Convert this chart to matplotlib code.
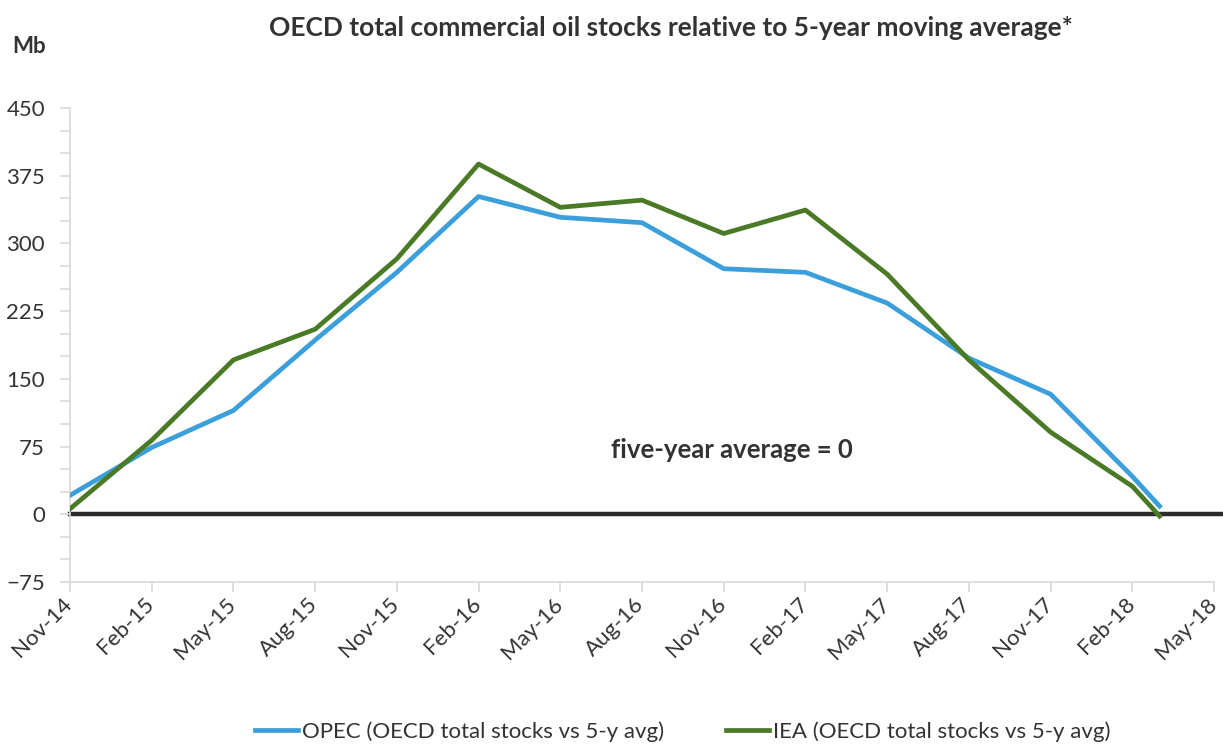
import numpy as np
import matplotlib.pyplot as plt
import matplotlib.transforms as mtransforms
from matplotlib.ticker import MultipleLocator

plt.rcParams['font.family'] = ['Lato', 'DejaVu Sans']

# データ (月次、Nov-14 から)
months = ['Nov-14', 'Feb-15', 'May-15', 'Aug-15', 'Nov-15', 'Feb-16', 'May-16', 'Aug-16',
          'Nov-16', 'Feb-17', 'May-17', 'Aug-17', 'Nov-17', 'Feb-18', 'Mar-18']
month_idx = [0, 3, 6, 9, 12, 15, 18, 21, 24, 27, 30, 33, 36, 39, 40]
opec = [21, 74, 115, 193, 268, 352, 329, 323, 272, 268, 234, 173, 133, 42, 9]
iea = [6, 82, 171, 205, 283, 388, 340, 348, 311, 337, 266, 171, 91, 31, -2]

tick_labels = ['Nov-14', 'Feb-15', 'May-15', 'Aug-15', 'Nov-15', 'Feb-16', 'May-16', 'Aug-16',
               'Nov-16', 'Feb-17', 'May-17', 'Aug-17', 'Nov-17', 'Feb-18', 'May-18']
tick_pos = np.arange(0, 43, 3)

fig = plt.figure(figsize=(12.23, 7.44), dpi=100)
ax = fig.add_axes([0.0572, 0.2177, 0.9355, 0.6371])

ax.axhline(0, color='#2b2b2b', lw=3.2, zorder=1, clip_on=False, xmax=1.007)
ax.plot(month_idx, opec, color='#3a9fdb', lw=3.4, label='OPEC (OECD total stocks vs 5-y avg)', zorder=3)
ax.plot(month_idx, iea, color='#4a7a25', lw=3.4, label='IEA (OECD total stocks vs 5-y avg)', zorder=3)

ax.set_xlim(0, 42)
ax.set_ylim(-75, 450)
ax.yaxis.set_major_locator(MultipleLocator(75))
ax.yaxis.set_minor_locator(MultipleLocator(25))
ax.set_xticks(tick_pos)
ax.set_xticklabels([])

# 回転ラベルは少し左にずらして手で描く
offset = mtransforms.ScaledTranslation(-8 / 100, -12 / 100, fig.dpi_scale_trans)
for p, lab in zip(tick_pos, tick_labels):
    ax.text(p, 0, lab, transform=ax.get_xaxis_transform() + offset, rotation=45,
            ha='right', va='top', rotation_mode='anchor', fontsize=16, color='#333333')

for s in ['top', 'right']:
    ax.spines[s].set_visible(False)
for s in ['left', 'bottom']:
    ax.spines[s].set_color('#d9d9d9')
    ax.spines[s].set_linewidth(1.2)
ax.tick_params(axis='both', which='both', color='#d9d9d9', width=1.2, labelsize=16, labelcolor='#333333')
ax.tick_params(axis='both', which='major', length=7)
ax.tick_params(axis='y', which='minor', length=7)
ax.tick_params(axis='y', pad=11)

ax.text(24.3, 71, 'five-year average = 0', fontsize=18.5, fontweight='bold', color='#333333',
        ha='center', va='center')

fig.text(0.549, 0.962, 'OECD total commercial oil stocks relative to 5-year moving average*',
         fontsize=19, fontweight='bold', color='#333333', ha='center', va='center')
fig.text(0.01, 0.938, 'Mb', fontsize=16, fontweight='bold', color='#333333', ha='left', va='center')

fig.legend(loc='center', bbox_to_anchor=(0.558, 0.017), ncol=2, frameon=False, fontsize=16,
           handlelength=1.95, handletextpad=0.15, columnspacing=2.8, labelcolor='#333333')

fig.savefig('out.png', dpi=100)
